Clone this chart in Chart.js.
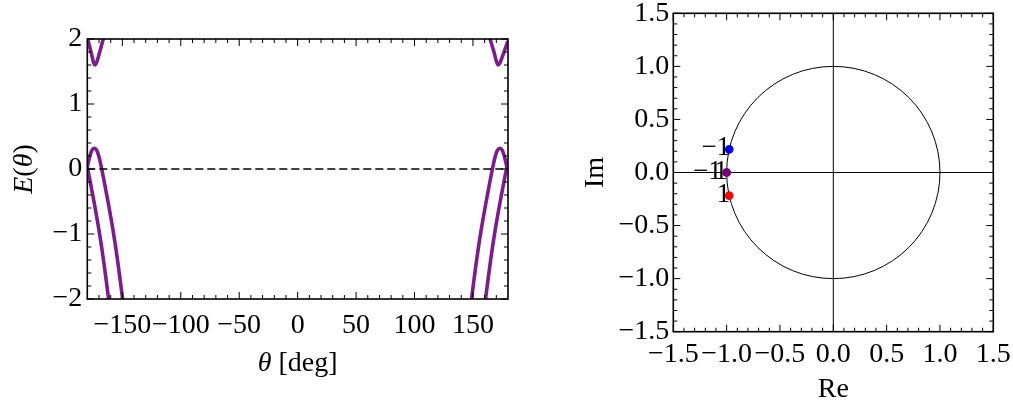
<!DOCTYPE html>
<html>
<head>
<meta charset="utf-8">
<script src="https://cdn.jsdelivr.net/npm/chart.js@4.4.1/dist/chart.umd.min.js"></script>
<style>
  html, body { margin: 0; padding: 0; background: #fff; }
  body { width: 1013px; height: 410px; position: relative; overflow: hidden; }
  #left  { position: absolute; left: 0;     top: 0; width: 540px; height: 410px; }
  #right { position: absolute; left: 560px; top: 0; width: 453px; height: 410px; }
</style>
</head>
<body>
<div id="left"><canvas id="bandChart"></canvas></div>
<div id="right"><canvas id="circleChart"></canvas></div>
<script>
// ---- Band energies E(theta), theta in degrees ----
const upperThetaLeft  = [-180, -178, -176, -174.5, -173.4, -172, -170, -168, -166, -165];
const upperEnergyLeft = [2.02, 1.88, 1.74, 1.63, 1.60, 1.64, 1.76, 1.89, 2.02, 2.09];
const upperThetaRight  = [164, 165, 166, 168, 170, 171.5, 173, 175, 177, 179, 180];
const upperEnergyRight = [2.04, 1.98, 1.92, 1.80, 1.66, 1.60, 1.63, 1.72, 1.82, 1.92, 1.97];

const peakThetaLeft  = [-180, -178, -176, -174, -172, -170, -168, -166, -164, -162, -160, -158, -156, -154, -152, -150, -148];
const peakEnergyLeft = [0.03, 0.19, 0.29, 0.32, 0.29, 0.19, 0.03, -0.15, -0.34, -0.53, -0.73, -0.94, -1.17, -1.42, -1.69, -1.97, -2.27];
const edgeThetaLeft  = [-180, -178, -176, -174, -172, -170, -168, -166, -164, -162, -160];
const edgeEnergyLeft = [0.03, -0.15, -0.34, -0.53, -0.73, -0.94, -1.17, -1.42, -1.69, -1.97, -2.27];

const peakThetaRight  = [147, 149, 151, 153, 155, 157, 159, 161, 163, 165, 167, 169, 171, 173, 175, 177, 179, 180];
const peakEnergyRight = [-2.27, -1.97, -1.69, -1.42, -1.17, -0.94, -0.73, -0.53, -0.34, -0.15, 0.03, 0.19, 0.29, 0.32, 0.29, 0.19, 0.03, -0.06];
const edgeThetaRight  = [159, 161, 163, 165, 167, 169, 171, 173, 175, 177, 179, 180];
const edgeEnergyRight = [-2.27, -1.97, -1.69, -1.42, -1.17, -0.94, -0.73, -0.53, -0.34, -0.15, 0.03, 0.12];

const zeroTheta  = [-180, 180];
const zeroEnergy = [0, 0];

const thetaTicks      = [-150, -100, -50, 0, 50, 100, 150];
const thetaTickLabels = ['\u2212150', '\u2212100', '\u221250', '0', '50', '100', '150'];
const energyTicks      = [-2, -1, 0, 1, 2];
const energyTickLabels = ['\u22122', '\u22121', '0', '1', '2'];

// ---- Roots in the complex plane ----
const rootRe     = [-0.976, -1.0, -1.0, -0.976];
const rootIm     = [0.218, 0.0, 0.0, -0.218];
const rootLabels = ['\u22121', '\u22121', '1', '1'];
const rootColors = ['#0000ff', '#7a007a', '#7a007a', '#ff0000'];

const planeTicks      = [-1.5, -1.0, -0.5, 0, 0.5, 1.0, 1.5];
const planeTickLabels = ['\u22121.5', '\u22121.0', '\u22120.5', '0.0', '0.5', '1.0', '1.5'];

// ---- shared helpers ----
const SERIF = "'Liberation Serif', 'Times New Roman', serif";
const TICK_FONT = { family: SERIF, size: 28 };
const PURPLE = '#7b1e8b';

function pts(xs, ys) { return xs.map((v, i) => ({ x: v, y: ys[i] })); }

function range(from, to, step) {
  const out = [];
  for (let v = from; v <= to + 1e-9; v += step) out.push(Math.round(v * 1000) / 1000);
  return out;
}

function frameTicksPlugin(spec) {
  return {
    id: 'frameTicks',
    afterDatasetsDraw(chart) {
      const { ctx, chartArea: a, scales: { x, y } } = chart;
      const MAJ = 7, MIN = 4;
      ctx.save();
      ctx.strokeStyle = '#000';
      ctx.lineWidth = 1;
      ctx.beginPath();
      const vt = (v, len) => {
        const p = x.getPixelForValue(v);
        ctx.moveTo(p, a.bottom); ctx.lineTo(p, a.bottom - len);
        ctx.moveTo(p, a.top);    ctx.lineTo(p, a.top + len);
      };
      const ht = (v, len) => {
        const p = y.getPixelForValue(v);
        ctx.moveTo(a.left, p);  ctx.lineTo(a.left + len, p);
        ctx.moveTo(a.right, p); ctx.lineTo(a.right - len, p);
      };
      spec.xMajor.forEach(v => vt(v, MAJ));
      spec.xMinor.forEach(v => vt(v, MIN));
      spec.yMajor.forEach(v => ht(v, MAJ));
      spec.yMinor.forEach(v => ht(v, MIN));
      ctx.stroke();
      ctx.lineWidth = 1.6;
      ctx.strokeRect(a.left, a.top, a.right - a.left, a.bottom - a.top);
      ctx.restore();
    }
  };
}

// Draws a run of [text, italic] pieces centred on (0,0) of the current transform.
function drawRun(ctx, pieces, size) {
  const fonts = pieces.map(p => (p[1] ? 'italic ' : '') + size + 'px ' + SERIF);
  let total = 0;
  const widths = pieces.map((p, i) => { ctx.font = fonts[i]; const w = ctx.measureText(p[0]).width; total += w; return w; });
  let xPos = -total / 2;
  ctx.textAlign = 'left';
  ctx.textBaseline = 'alphabetic';
  pieces.forEach((p, i) => { ctx.font = fonts[i]; ctx.fillText(p[0], xPos, 0); xPos += widths[i]; });
}

function scaleOpts(min, max, ticks, labels, side) {
  return {
    type: 'linear', min, max,
    afterBuildTicks: s => { s.ticks = ticks.map(v => ({ value: v })); },
    ticks: {
      callback: v => labels[ticks.indexOf(v)],
      font: TICK_FONT, color: '#000', autoSkip: false, maxRotation: 0, minRotation: 0,
      padding: side.padding
    },
    grid: { display: false, drawTicks: false, tickLength: 0 },
    border: { display: false },
    afterFit: s => {
      if (side.width !== undefined) s.width = side.width;
      if (side.height !== undefined) s.height = side.height;
      s.paddingLeft = 0; s.paddingRight = 0; s.paddingTop = 0; s.paddingBottom = 0;
    }
  };
}

// ---- Left panel: E(theta) ----
const bandLine = (xs, ys) => ({
  data: pts(xs, ys), showLine: true, borderColor: PURPLE, borderWidth: 3.6,
  pointRadius: 0, cubicInterpolationMode: 'monotone', clip: 0
});

new Chart(document.getElementById('bandChart'), {
  type: 'scatter',
  data: {
    datasets: [
      { data: pts(zeroTheta, zeroEnergy), showLine: true, borderColor: '#000', borderWidth: 1.3,
        borderDash: [8, 4], pointRadius: 0, clip: 0 },
      bandLine(upperThetaLeft, upperEnergyLeft),
      bandLine(upperThetaRight, upperEnergyRight),
      bandLine(peakThetaLeft, peakEnergyLeft),
      bandLine(edgeThetaLeft, edgeEnergyLeft),
      bandLine(peakThetaRight, peakEnergyRight),
      bandLine(edgeThetaRight, edgeEnergyRight)
    ]
  },
  options: {
    responsive: true, maintainAspectRatio: false, animation: false, devicePixelRatio: 1,
    layout: { padding: { left: 0, top: 39, right: 32, bottom: 0 } },
    plugins: { legend: { display: false }, tooltip: { enabled: false } },
    scales: {
      x: scaleOpts(-180, 180, thetaTicks, thetaTickLabels, { height: 111, padding: 10 }),
      y: scaleOpts(-2, 2, energyTicks, energyTickLabels, { width: 87.3, padding: 5 })
    }
  },
  plugins: [
    frameTicksPlugin({
      xMajor: thetaTicks,
      xMinor: range(-170, 170, 10).filter(v => v % 50 !== 0),
      yMajor: energyTicks,
      yMinor: range(-1.8, 1.8, 0.2).filter(v => Math.abs(v - Math.round(v)) > 1e-6)
    }),
    {
      id: 'bandTitles',
      afterDraw(chart) {
        const { ctx, chartArea: a } = chart;
        ctx.save();
        ctx.fillStyle = '#000';
        ctx.translate((a.left + a.right) / 2, 371);
        drawRun(ctx, [['\u03b8', true], [' [deg]', false]], 28);
        ctx.restore();
        ctx.save();
        ctx.fillStyle = '#000';
        ctx.translate(32, (a.top + a.bottom) / 2);
        ctx.rotate(-Math.PI / 2);
        drawRun(ctx, [['E', true], ['(', false], ['\u03b8', true], [')', false]], 28);
        ctx.restore();
      }
    }
  ]
});

// ---- Right panel: roots on the unit circle ----
new Chart(document.getElementById('circleChart'), {
  type: 'scatter',
  data: {
    datasets: [{
      data: pts(rootRe, rootIm),
      pointRadius: 4.3, pointBorderWidth: 0,
      pointBackgroundColor: rootColors, backgroundColor: rootColors, borderColor: rootColors,
      clip: false
    }]
  },
  options: {
    responsive: true, maintainAspectRatio: false, animation: false, devicePixelRatio: 1,
    layout: { padding: { left: 0, top: 13.3, right: 19.7, bottom: 0 } },
    plugins: { legend: { display: false }, tooltip: { enabled: false } },
    scales: {
      x: scaleOpts(-1.5, 1.5, planeTicks, planeTickLabels, { height: 78.3, padding: 6 }),
      y: scaleOpts(-1.5, 1.5, planeTicks, planeTickLabels, { width: 113.3, padding: 4 })
    }
  },
  plugins: [
    {
      id: 'unitCircle',
      beforeDatasetsDraw(chart) {
        const { ctx, chartArea: a, scales: { x, y } } = chart;
        const cx = x.getPixelForValue(0), cy = y.getPixelForValue(0);
        ctx.save();
        ctx.strokeStyle = '#000';
        ctx.lineWidth = 1;
        ctx.beginPath();
        ctx.moveTo(a.left, cy); ctx.lineTo(a.right, cy);
        ctx.moveTo(cx, a.top);  ctx.lineTo(cx, a.bottom);
        ctx.stroke();
        ctx.beginPath();
        ctx.ellipse(cx, cy, x.getPixelForValue(1) - cx, cy - y.getPixelForValue(1), 0, 0, 2 * Math.PI);
        ctx.stroke();
        // root labels sit just left of each marker; labels sharing a root step leftwards
        ctx.fillStyle = '#000';
        ctx.font = '27px ' + SERIF;
        ctx.textAlign = 'right';
        ctx.textBaseline = 'middle';
        rootLabels.forEach((t, i) => {
          let later = 0;
          for (let j = i + 1; j < rootLabels.length; j++) {
            if (rootRe[j] === rootRe[i] && rootIm[j] === rootIm[i]) later++;
          }
          ctx.fillText(t, x.getPixelForValue(rootRe[i]) + 1 - 6 * later, y.getPixelForValue(rootIm[i]) - 1);
        });
        ctx.restore();
      }
    },
    frameTicksPlugin({
      xMajor: planeTicks,
      xMinor: range(-1.4, 1.4, 0.1).filter(v => Math.abs(v * 2 - Math.round(v * 2)) > 1e-6),
      yMajor: planeTicks,
      yMinor: range(-1.4, 1.4, 0.1).filter(v => Math.abs(v * 2 - Math.round(v * 2)) > 1e-6)
    }),
    {
      id: 'planeTitles',
      afterDraw(chart) {
        const { ctx, chartArea: a } = chart;
        ctx.save();
        ctx.fillStyle = '#000';
        ctx.translate((a.left + a.right) / 2, 397);
        drawRun(ctx, [['Re', false]], 28);
        ctx.restore();
        ctx.save();
        ctx.fillStyle = '#000';
        ctx.translate(43, (a.top + a.bottom) / 2);
        ctx.rotate(-Math.PI / 2);
        drawRun(ctx, [['Im', false]], 28);
        ctx.restore();
      }
    }
  ]
});
</script>
</body>
</html>
